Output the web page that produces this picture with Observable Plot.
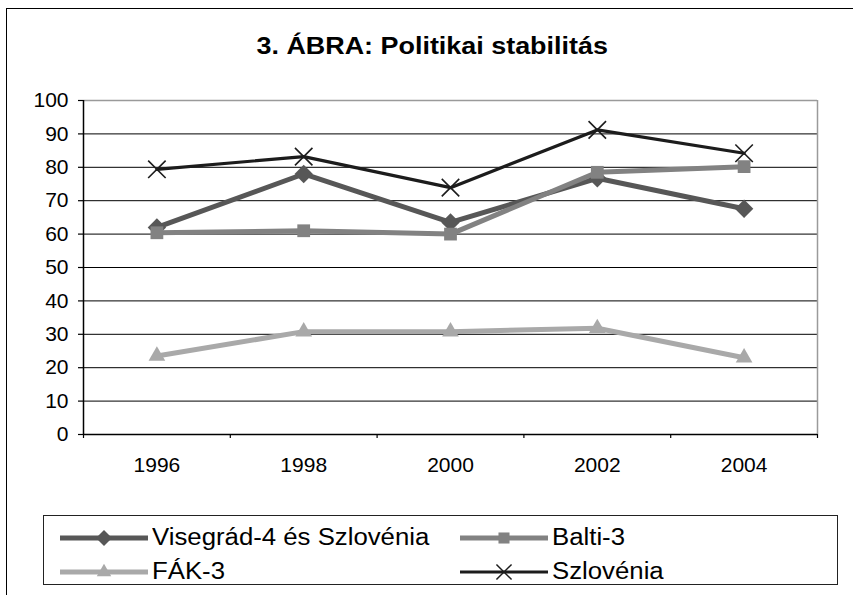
<!DOCTYPE html>
<html>
<head>
<meta charset="utf-8">
<script src="https://cdn.jsdelivr.net/npm/d3@7"></script>
<script src="https://cdn.jsdelivr.net/npm/@observablehq/plot@0.6"></script>
<style>
  html, body { margin: 0; padding: 0; background: #fff; }
  #wrap { position: relative; width: 853px; height: 595px; overflow: hidden; font-family: "Liberation Sans", Arial, sans-serif; }
  #frame { position: absolute; left: 6px; top: 8px; width: 900px; height: 700px; border: 1.5px solid #000; box-sizing: border-box; }
  #title { position: absolute; left: 0; width: 864px; top: 33px; text-align: center; font-weight: bold; font-size: 23px; color: #000; }
  #title span { display: inline-block; transform: scaleX(1.17); }
  #chart { position: absolute; left: 0; top: 0; }
  #legend { position: absolute; left: 43px; top: 515px; width: 795px; height: 70px; border: 1px solid #222; box-sizing: border-box; }
  .item { position: absolute; display: flex; align-items: center; font-size: 23px; color: #000; height: 30px; }
  .item svg { margin-right: 4px; }
  .item span { display: inline-block; transform: scaleX(1.12); transform-origin: left center; }
</style>
</head>
<body>
<div id="wrap">
  <div id="frame"></div>
  <div id="title"><span></span></div>
  <div id="chart"></div>
  <div id="legend"></div>
</div>
<script>
const title = "3. ÁBRA: Politikai stabilitás";
const years = [1996, 1998, 2000, 2002, 2004];
const xBoundaries = [1995, 1997, 1999, 2001, 2003, 2005];
const yTicks = [0, 10, 20, 30, 40, 50, 60, 70, 80, 90, 100];
const seriesNames = ["Visegrád-4 és Szlovénia", "Balti-3", "FÁK-3", "Szlovénia"];
const visegrad = [62, 78, 63.5, 76.7, 67.6];
const balti = [60.4, 61, 60, 78.5, 80.2];
const fak = [23.5, 30.8, 30.8, 31.8, 23];
const szlovenia = [79.4, 83.2, 73.9, 91.2, 84.2];

const colors = ["#575757", "#828282", "#a9a9a9", "#1c1c1c"];
const symbols = ["diamond2", "square", "triangle", "times"];
const lineWidths = [5, 5, 5, 3.2];
const radii = [8.3, 7.2, 6.2, 8];
const values = [visegrad, balti, fak, szlovenia];

document.querySelector("#title span").textContent = title;

const seriesMarks = [];
values.forEach((vals, i) => {
  const rows = years.map((y, j) => ({year: y, value: vals[j], series: seriesNames[i]}));
  seriesMarks.push(Plot.line(rows, {x: "year", y: "value", stroke: colors[i], strokeWidth: lineWidths[i]}));
  if (symbols[i] === "times") {
    seriesMarks.push(Plot.dot(rows, {x: "year", y: "value", symbol: symbols[i], r: radii[i], stroke: colors[i], strokeWidth: 1.6, fill: "none"}));
  } else {
    seriesMarks.push(Plot.dot(rows, {x: "year", y: "value", symbol: symbols[i], r: radii[i], fill: colors[i], stroke: "none"}));
  }
});

const chart = Plot.plot({
  width: 853,
  height: 500,
  marginLeft: 83,
  marginRight: 36,
  marginTop: 100,
  marginBottom: 66,
  x: {type: "linear", domain: [1995, 2005], label: null},
  y: {domain: [0, 100], label: null},
  style: {fontFamily: "'Liberation Sans', Arial, sans-serif", fontSize: "21px", color: "#000", background: "transparent", overflow: "visible"},
  marks: [
    Plot.ruleY(yTicks.filter(d => d > 0 && d < 100), {stroke: "#000", strokeWidth: 1}),
    Plot.ruleY([100], {stroke: "#9a9a9a", strokeWidth: 1.5}),
    Plot.ruleX([2005], {stroke: "#9a9a9a", strokeWidth: 1.5}),
    Plot.axisY({ticks: yTicks, tickSize: 5, tickPadding: 10, strokeWidth: 1.2, fontSize: 21, label: null}),
    Plot.axisX({ticks: years, tickSize: 0, tickPadding: 23, fontSize: 21, tickFormat: d => String(d), label: null}),
    Plot.axisX({ticks: xBoundaries, tickSize: 4, tickFormat: () => "", strokeWidth: 1.2, label: null}),
    Plot.ruleX([1995], {stroke: "#000", strokeWidth: 1.5}),
    Plot.ruleY([0], {stroke: "#000", strokeWidth: 1.5}),
    ...seriesMarks
  ]
});
document.getElementById("chart").appendChild(chart);

// Legend
const legend = document.getElementById("legend");
const positions = [[16, 6], [416, 6], [16, 40], [416, 40]];
function symbolPath(sym, size) {
  const map = {diamond2: d3.symbolDiamond2, square: d3.symbolSquare, triangle: d3.symbolTriangle, times: d3.symbolTimes};
  return d3.symbol(map[sym], size)();
}
seriesNames.forEach((name, i) => {
  const div = document.createElement("div");
  div.className = "item";
  div.style.left = positions[i][0] + "px";
  div.style.top = positions[i][1] + "px";
  const svg = d3.create("svg").attr("width", 88).attr("height", 30);
  svg.append("line").attr("x1", 0).attr("x2", 88).attr("y1", 16).attr("y2", 16)
    .attr("stroke", colors[i]).attr("stroke-width", lineWidths[i]);
  const p = svg.append("path").attr("transform", "translate(44,16)").attr("d", symbolPath(symbols[i], Math.PI * radii[i] * radii[i] * 0.75));
  if (symbols[i] === "times") p.attr("stroke", colors[i]).attr("stroke-width", 1.5).attr("fill", "none");
  else p.attr("fill", colors[i]);
  div.appendChild(svg.node());
  const span = document.createElement("span");
  span.textContent = name;
  div.appendChild(span);
  legend.appendChild(div);
});
</script>
</body>
</html>
